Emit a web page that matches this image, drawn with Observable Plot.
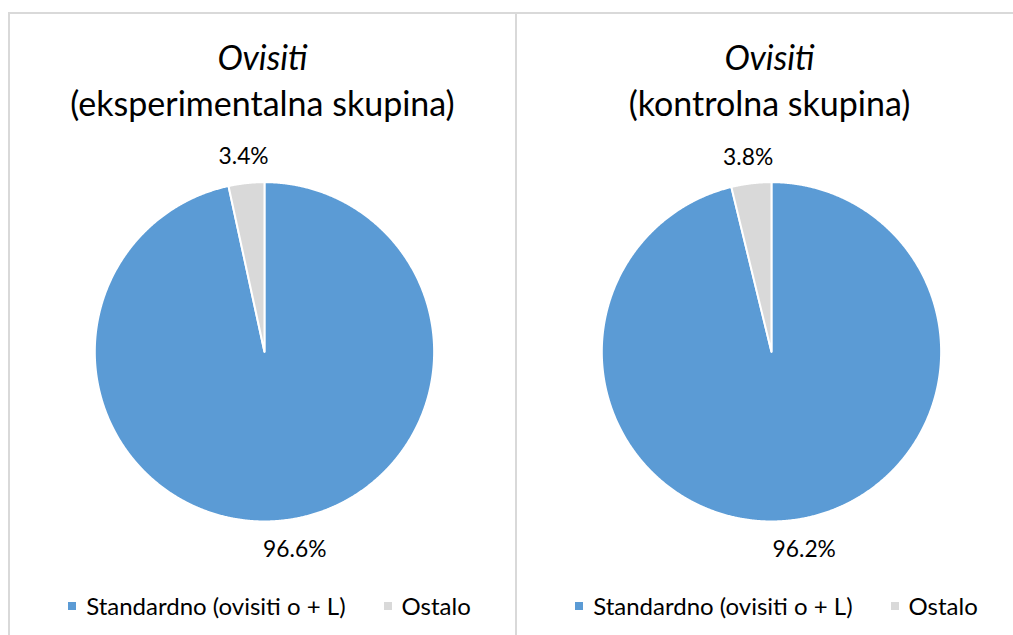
<!DOCTYPE html>
<html><head><meta charset="utf-8">
<script src="https://cdn.jsdelivr.net/npm/d3@7"></script>
<script src="https://cdn.jsdelivr.net/npm/@observablehq/plot@0.6"></script>
<style>
body{margin:0;background:#fff;font-family:Lato,"Open Sans",sans-serif;color:#000;}
#wrap{position:relative;width:1013px;height:635px;overflow:hidden;background:#fff;}
.panel{position:absolute;top:12px;height:700px;border:2px solid #d9d9d9;box-sizing:border-box;}
.panel svg{position:absolute;left:-2px;top:-2px;}
.title{position:absolute;left:0;right:0;text-align:center;font-size:34px;line-height:46px;top:20px;}
.title .it{font-style:italic;}
.legend{position:absolute;left:14px;right:0;top:578px;display:flex;justify-content:center;align-items:center;font-size:24px;line-height:28px;gap:38px;}
.legend .item{display:flex;align-items:center;}
.legend .sw{width:8px;height:8px;margin-right:10px;}
</style></head>
<body><div id="wrap"></div>
<script>
const groupNames = ["eksperimentalna skupina", "kontrolna skupina"];
const categories = ["Standardno (ovisiti o + L)", "Ostalo"];
const standardno = [96.6, 96.2];
const ostalo = [3.4, 3.8];
const colors = ["#5B9BD5", "#D9D9D9"];

const panels = [{left: 8, width: 509}, {left: 515, width: 509}];
const cx = 258, cy = 342, R = 171;

const wrap = document.getElementById("wrap");
groupNames.forEach((g, gi) => {
  const p = panels[gi];
  const div = document.createElement("div");
  div.className = "panel";
  div.style.left = p.left + "px";
  div.style.width = p.width + "px";
  wrap.appendChild(div);

  const values = [standardno[gi], ostalo[gi]];
  const arcs = d3.pie().sort(null)(values).map((a, i) => ({...a, cat: categories[i]}));
  const pts = [];
  arcs.forEach(a => {
    pts.push({cat: a.cat, x: 0, y: 0});
    const n = Math.max(2, Math.ceil((a.endAngle - a.startAngle) / 0.005));
    for (let k = 0; k <= n; k++) {
      const t = a.startAngle + (a.endAngle - a.startAngle) * k / n;
      pts.push({cat: a.cat, x: Math.sin(t), y: Math.cos(t)});
    }
  });
  const lab = arcs.map(a => {
    const m = (a.startAngle + a.endAngle) / 2;
    const big = a.value > 50;
    const k = big ? 1.18 : 1.155;
    const ang = big ? m - 0.045 : m;
    return {x: k * Math.sin(ang), y: k * Math.cos(ang), text: a.value.toFixed(1) + "%"};
  });

  const chart = Plot.plot({
    width: p.width, height: 640, margin: 0,
    x: {domain: [-1, 1], range: [cx - R, cx + R], axis: null},
    y: {domain: [-1, 1], range: [cy + R, cy - R], axis: null},
    color: {domain: categories, range: colors},
    style: {background: "transparent", fontFamily: "Lato, 'Open Sans', sans-serif", overflow: "visible"},
    marks: [
      Plot.line(pts, {x: "x", y: "y", z: "cat", fill: "cat", stroke: "white", strokeWidth: 2, strokeLinejoin: "round", curve: "linear-closed"}),
      Plot.text(lab, {x: "x", y: "y", text: "text", fontSize: 23, fill: "#000"})
    ]
  });
  div.appendChild(chart);

  const title = document.createElement("div");
  title.className = "title";
  title.innerHTML = '<span class="it">Ovisiti</span><br>(' + g + ')';
  div.appendChild(title);

  const leg = document.createElement("div");
  leg.className = "legend";
  categories.forEach((c, i) => {
    const it = document.createElement("div");
    it.className = "item";
    it.innerHTML = '<span class="sw" style="background:' + colors[i] + '"></span><span>' + c + '</span>';
    leg.appendChild(it);
  });
  div.appendChild(leg);
});
</script></body></html>
